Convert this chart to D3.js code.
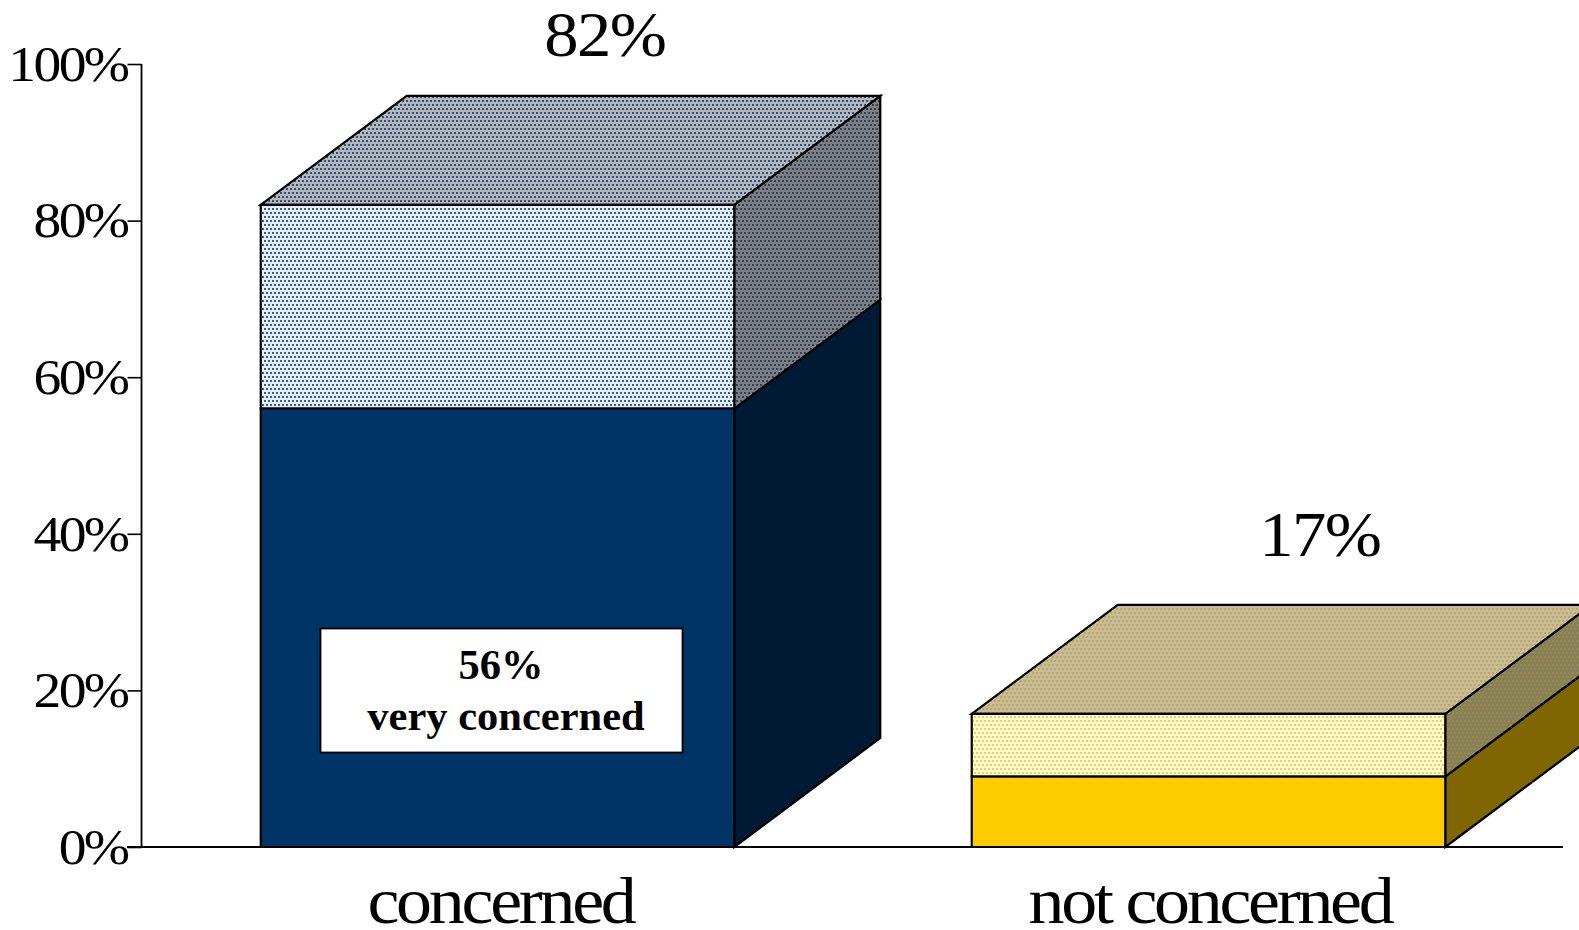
<!DOCTYPE html>
<html><head><meta charset="utf-8">
<script src="https://cdn.jsdelivr.net/npm/d3@7/dist/d3.min.js"></script>
<style>html,body{margin:0;padding:0;background:#fff;overflow:hidden}svg{display:block}text{font-family:"Liberation Serif",serif;fill:#000}</style>
</head><body><svg id="c" width="1579" height="930"></svg>
<script>
const categories = ["concerned", "not concerned"];
const veryValues = [56, 9];
const totalValues = [82, 17];
const totalLabels = ["82%", "17%"];
const yTicks = [0, 20, 40, 60, 80, 100];
const frontSolid = ["#003366", "#ffcc00"];
const sideSolid = ["#001a33", "#806600"];
const frontDot = ["#2f5f98", "#fdd030"];
const topDot = ["#2f4f74", "#d0a830"];
const sideDot = ["#2a4060", "#a88a20"];
const frontBg = ["#e8eef5", "#fffbe0"];
const topBg = ["#b4b8bc", "#c0bca8"];
const sideBg = ["#7d7f80", "#838068"];

const svg = d3.select("#c");
const y = d3.scaleLinear().domain([0, 100]).range([847, 64]);
const x = d3.scaleBand().domain(categories).range([142, 1564]).paddingInner(0.334).paddingOuter(0.167);
const depth = {dx: 146, dy: 109};
const stretch = 1.09;

const defs = svg.append("defs");
function pat(id, bg, dot) {
  const p = defs.append("pattern").attr("id", id).attr("patternUnits", "userSpaceOnUse").attr("width", 8).attr("height", 8);
  p.append("rect").attr("width", 8).attr("height", 8).attr("fill", bg);
  [[0,0],[4,0],[2,4],[6,4]].forEach(d => p.append("rect").attr("x", d[0]).attr("y", d[1]).attr("width", 2).attr("height", 2).attr("fill", dot));
}
categories.forEach((c, i) => {
  pat("f" + i, frontBg[i], frontDot[i]);
  pat("t" + i, topBg[i], topDot[i]);
  pat("s" + i, sideBg[i], sideDot[i]);
});

// axes
const axisG = svg.append("g").attr("transform", "translate(141.5,0)");
const yAxis = d3.axisLeft(y).tickValues(yTicks).tickFormat(d => d + "%").tickSize(14);
axisG.call(yAxis);
axisG.select(".domain").attr("d", `M0,${y(100)}V${y(0)}`).attr("stroke", "#000").attr("stroke-width", 1.8);
axisG.selectAll(".tick line").attr("stroke", "#000").attr("stroke-width", 1.6);
axisG.selectAll(".tick text").attr("font-size", 51).attr("letter-spacing", -2.4)
  .attr("x", 0).attr("dy", "0.32em").attr("text-anchor", "end")
  .attr("transform", `translate(-14,0) scale(${stretch},1)`);
svg.append("line").attr("x1", 127).attr("x2", 1563).attr("y1", y(0)).attr("y2", y(0)).attr("stroke", "#000").attr("stroke-width", 1.8);

// bars
function poly(points, fill) {
  svg.append("path").attr("d", "M" + points.map(p => p.join(",")).join("L") + "Z").attr("fill", fill)
    .attr("stroke", "#000").attr("stroke-width", 2.2).attr("stroke-linejoin", "miter");
}
function stretched(cx, by, size, spacing, txt) {
  svg.append("text").attr("transform", `translate(${cx},${by}) scale(${stretch},1)`)
    .attr("text-anchor", "middle").attr("font-size", size).attr("letter-spacing", spacing).text(txt);
}
categories.forEach((c, i) => {
  const x0 = x(c), x1 = x0 + x.bandwidth(), y0 = y(0), ym = y(veryValues[i]), yt = y(totalValues[i]);
  const {dx, dy} = depth;
  poly([[x1, y0], [x1 + dx, y0 - dy], [x1 + dx, ym - dy], [x1, ym]], sideSolid[i]);
  poly([[x1, ym], [x1 + dx, ym - dy], [x1 + dx, yt - dy], [x1, yt]], `url(#s${i})`);
  poly([[x0, yt], [x0 + dx, yt - dy], [x1 + dx, yt - dy], [x1, yt]], `url(#t${i})`);
  poly([[x0, ym], [x1, ym], [x1, yt], [x0, yt]], `url(#f${i})`);
  poly([[x0, y0], [x1, y0], [x1, ym], [x0, ym]], frontSolid[i]);
  stretched(x0 + x.bandwidth() / 2 + (i ? 1.5 : 3), 923, 66, -3, c);
  stretched(x0 + 344 + i * 4, yt - dy - (i ? 49 : 40), 63, -1.5, totalLabels[i]);
});

// callout
const box = svg.append("g");
box.append("rect").attr("x", 320.5).attr("y", 628.5).attr("width", 362).attr("height", 124).attr("fill", "#fff").attr("stroke", "#000").attr("stroke-width", 1.8);
box.append("text").attr("x", 501).attr("y", 679).attr("text-anchor", "middle").attr("font-size", 42.5).attr("font-weight", "bold").text(veryValues[0] + "%");
box.append("text").attr("x", 506).attr("y", 730).attr("text-anchor", "middle").attr("font-size", 42.5).attr("font-weight", "bold").text("very concerned");
</script></body></html>
